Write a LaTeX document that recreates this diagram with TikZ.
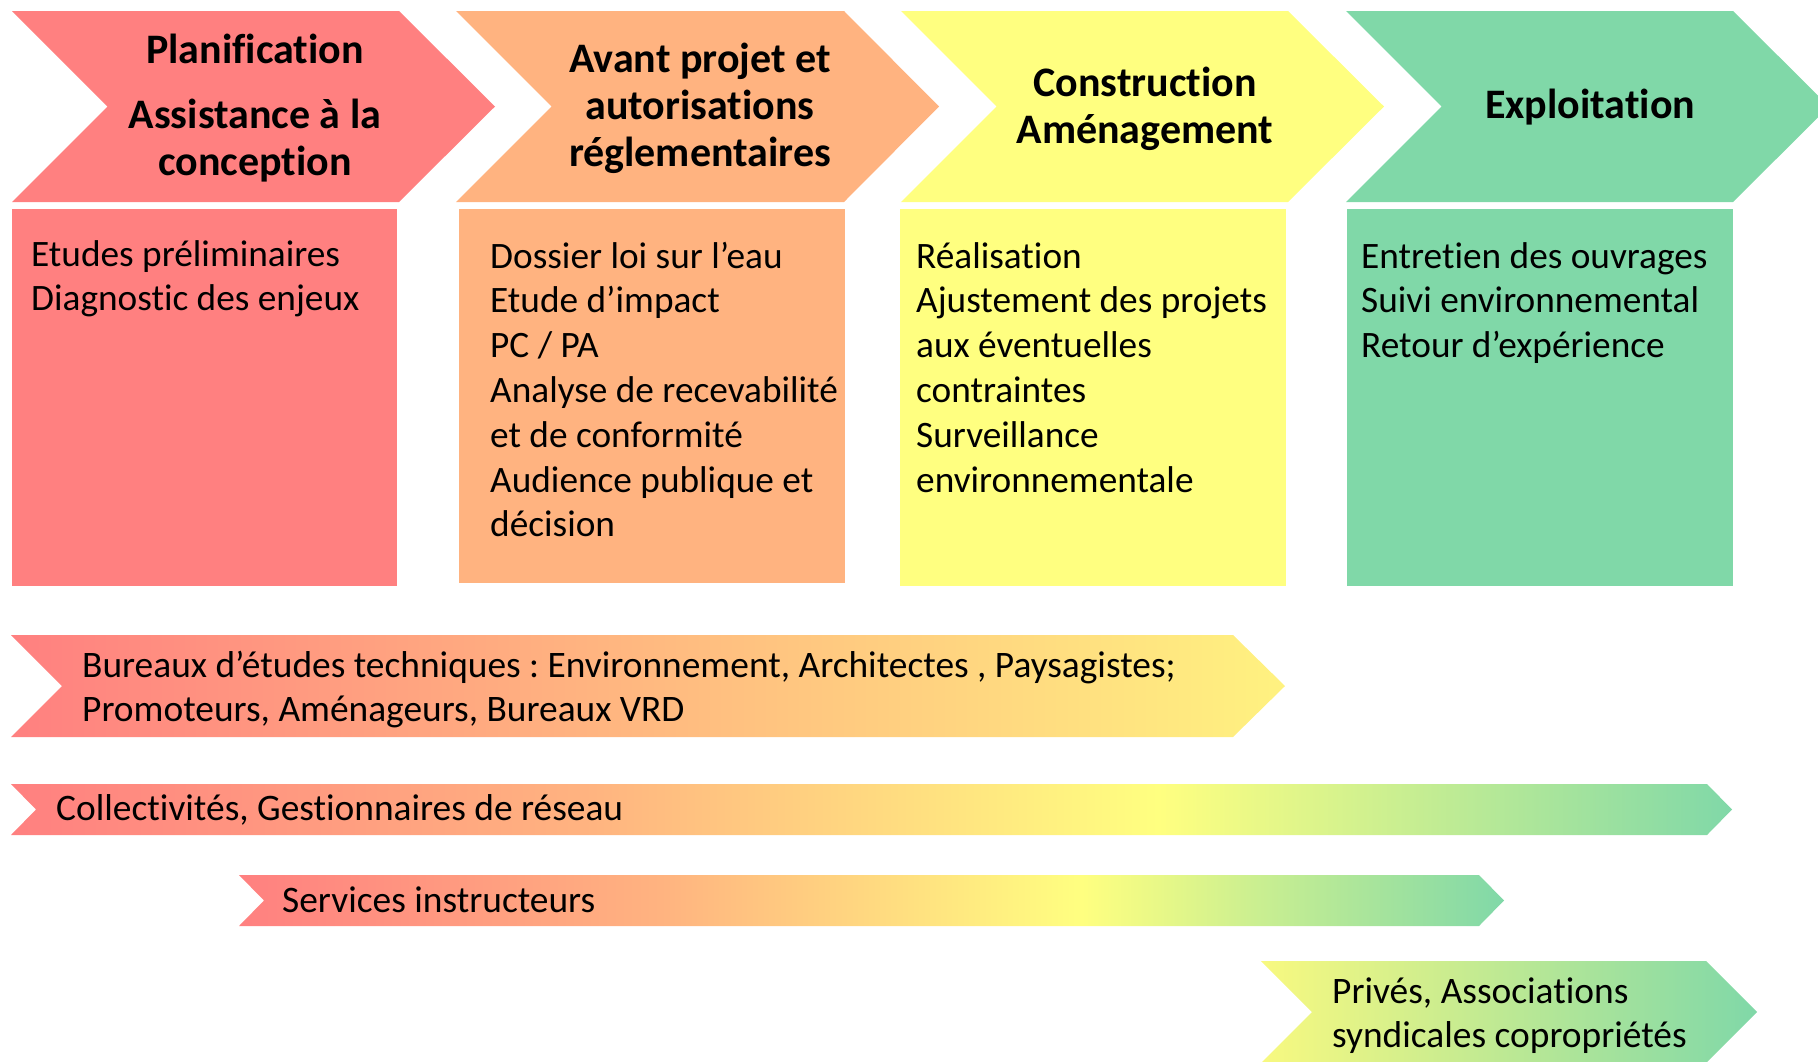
\documentclass[tikz,border=0pt]{standalone}
\usepackage{fontspec}
\setmainfont{Carlito}[Ligatures={NoCommon}]
\definecolor{cpink}{HTML}{FF8080}
\definecolor{corange}{HTML}{FFB380}
\definecolor{cyellow}{HTML}{FFFF80}
\definecolor{cgreen}{HTML}{80D8A8}
\definecolor{cbandend}{HTML}{FFF280}
\definecolor{cyelstart}{HTML}{F8F980}
\pgfdeclarehorizontalshading{fourstop}{100bp}{color(0bp)=(cpink); color(25bp)=(cpink); color(41.67bp)=(corange); color(58.33bp)=(cyellow); color(75bp)=(cgreen); color(100bp)=(cgreen)}
\tikzset{
  headtxt/.style={inner sep=0pt, anchor=base, align=center, font=\fontsize{42}{47}\selectfont\bfseries},
  bodytxt/.style={inner sep=0pt, anchor=base west, align=left, font=\fontsize{37.3}{44.8}\selectfont},
  bandtxt/.style={inner sep=0pt, anchor=base west, align=left, font=\fontsize{37.4}{44}\selectfont},
}
\frenchspacing
\begin{document}
\begin{tikzpicture}[x=1pt,y=-1pt]
\useasboundingbox (0,0) rectangle (1818,1061);
\clip (0,0) rectangle (1818,1061);
% chevrons
\fill[cpink]   (12,11) -- (399,11) -- (495,106.5) -- (399,202) -- (12,202) -- (107.5,106.5) -- cycle;
\fill[corange] (456,11) -- (844,11) -- (939,106.5) -- (844,202) -- (456,202) -- (551.5,106.5) -- cycle;
\fill[cyellow] (901,11) -- (1288,11) -- (1384,106.5) -- (1288,202) -- (901,202) -- (996.5,106.5) -- cycle;
\fill[cgreen]  (1346,11) -- (1733,11) -- (1829,106.5) -- (1733,202) -- (1346,202) -- (1441.5,106.5) -- cycle;
% boxes
\fill[cpink]   (12,209) rectangle (397,586);
\fill[corange] (459,209) rectangle (845,583);
\fill[cyellow] (900,209) rectangle (1286,586);
\fill[cgreen]  (1347,209) rectangle (1733,586);
% headings (anchored at the baseline of the last line)
\node[headtxt] (h1) at (255,175) {Planification\\[18pt]Assistance à la\\conception};
\node[headtxt] (h2) at (700,166) {Avant projet et\\autorisations\\réglementaires};
\node[headtxt] (h3) at (1145,143) {Construction\\Aménagement};
\node[headtxt] (h4) at (1590,118) {Exploitation};
% box texts
\node[bodytxt] (b1) at (31,310.8) {Etudes préliminaires\\Diagnostic des enjeux};
\node[bodytxt] (b2) at (490,536.8) {Dossier loi sur l’eau\\Etude d’impact\\PC / PA\\Analyse de recevabilité\\et de conformité\\Audience publique et\\décision};
\node[bodytxt] (b3) at (916,492) {Réalisation\\Ajustement des projets\\aux éventuelles\\contraintes\\Surveillance\\environnementale};
\node[bodytxt] (b4) at (1361,357.6) {Entretien des ouvrages\\Suivi environnemental\\Retour d’expérience};
% bands
\shade[left color=cpink, middle color=corange, right color=cbandend]
  (11,635) -- (1233,635) -- (1285,686) -- (1233,737) -- (11,737) -- (62,686) -- cycle;
\shade[shading=fourstop]
  (11,784) -- (1707,784) -- (1732,809.5) -- (1707,835) -- (11,835) -- (36,809.5) -- cycle;
\shade[shading=fourstop]
  (239,875) -- (1479,875) -- (1504,900.5) -- (1479,926) -- (239,926) -- (264,900.5) -- cycle;
\shade[left color=cyelstart, right color=cgreen]
  (1261,961) -- (1706,961) -- (1757,1012) -- (1706,1063) -- (1261,1063) -- (1312,1012) -- cycle;
% band texts
\node[bandtxt] (t1) at (82,721) {Bureaux d’études techniques : Environnement, Architectes , Paysagistes;\\Promoteurs, Aménageurs, Bureaux VRD};
\node[bandtxt] (t2) at (56,820) {Collectivités, Gestionnaires de réseau};
\node[bandtxt] (t3) at (282,912) {Services instructeurs};
\node[bandtxt] (t4) at (1332,1047) {Privés, Associations\\syndicales copropriétés};
\end{tikzpicture}
\end{document}
